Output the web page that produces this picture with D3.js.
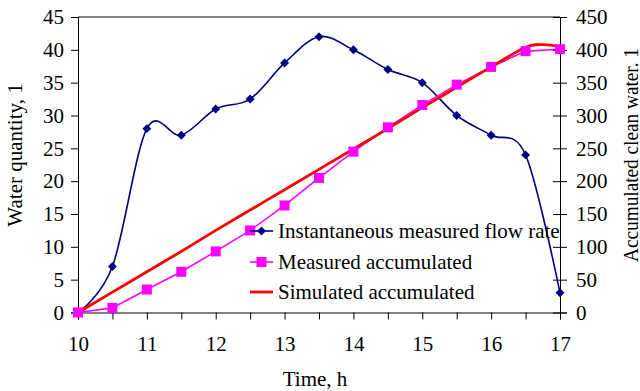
<!DOCTYPE html>
<html>
<head>
<meta charset="utf-8">
<script src="https://cdn.jsdelivr.net/npm/d3@7"></script>
<style>
  html, body { margin: 0; padding: 0; background: #fff; }
  svg { display: block; font-family: "Liberation Serif", "Times New Roman", serif; }
  text { font-family: "Liberation Serif", "Times New Roman", serif; fill: #000; }
</style>
</head>
<body>
<svg id="chart" width="640" height="391" font-family="Liberation Serif, serif"></svg>
<script>
// ---- data ----
const times = [10, 10.5, 11, 11.5, 12, 12.5, 13, 13.5, 14, 14.5, 15, 15.5, 16, 16.5, 17];
const flowRate = [0, 7, 28, 27, 31, 32.5, 38, 42, 40, 37, 35, 30, 27, 24, 3];
const measuredAccum = [0, 7, 35, 62, 93, 125, 163, 205, 245, 282, 316, 347, 374, 398, 401];
const simTimes = [10, 10.5, 11, 11.5, 12, 12.5, 13, 13.5, 14, 14.5, 15, 15.5, 16, 16.5, 16.75, 17];
const simAccum = [0, 31, 62, 93, 125, 156, 187, 218, 249, 280, 312, 343, 374, 404, 408, 405];
const leftTicks = [0, 5, 10, 15, 20, 25, 30, 35, 40, 45];
const rightTicks = [0, 50, 100, 150, 200, 250, 300, 350, 400, 450];
const xTicks = [10, 10.5, 11, 11.5, 12, 12.5, 13, 13.5, 14, 14.5, 15, 15.5, 16, 16.5, 17];
const seriesNames = ["Instantaneous measured flow rate", "Measured accumulated", "Simulated accumulated"];
const labels = { x: "Time, h", yLeft: "Water quantity, 1", yRight: "Accumulated clean water. 1" };

// ---- layout ----
const FS = 21;
const FONT = '"Liberation Serif", "Times New Roman", serif';
const L = 78, R = 560, T = 17, B = 312.5;
const svg = d3.select("#chart");
const x = d3.scaleLinear().domain([10, 17]).range([L, R]);
const yL = d3.scaleLinear().domain([0, 45]).range([B, T]);
const yR = d3.scaleLinear().domain([0, 450]).range([B, T]);

// frame top line
svg.append("line").attr("x1", L).attr("x2", R).attr("y1", T).attr("y2", T)
  .attr("stroke", "#000").attr("stroke-width", 1);

// left axis
const gL = svg.append("g").attr("transform", `translate(${L},0)`)
  .call(d3.axisLeft(yL).tickValues(leftTicks).tickSize(7).tickPadding(7).tickFormat(d3.format("d")));
// right axis
const gR = svg.append("g").attr("transform", `translate(${R},0)`)
  .call(d3.axisRight(yR).tickValues(rightTicks).tickSize(7).tickPadding(9).tickFormat(d3.format("d")));
gR.selectAll(".tick line").attr("x1", -7).attr("x2", 7);
// bottom axis
const gB = svg.append("g").attr("transform", `translate(0,${B})`)
  .call(d3.axisBottom(x).tickValues(xTicks).tickSize(7).tickPadding(17)
    .tickFormat(d => Number.isInteger(d) ? d3.format("d")(d) : ""));

[gL, gR, gB].forEach(g => {
  g.attr("font-family", null).attr("font-size", null);
  g.selectAll("text").style("font-family", FONT)
    .style("font-size", FS + "px").attr("fill", "#000");
  g.selectAll("path, line").attr("stroke", "#000").attr("stroke-width", 1);
});

// ---- series ----
const flowLine = d3.line().x((d, i) => x(times[i])).y(d => yL(d)).curve(d3.curveCatmullRom.alpha(0));
const measLine = d3.line().x((d, i) => x(times[i])).y(d => yR(d));
const simLine = d3.line().x((d, i) => x(simTimes[i])).y(d => yR(d)).curve(d3.curveCatmullRom.alpha(0));

svg.append("path").datum(flowRate).attr("d", flowLine)
  .attr("fill", "none").attr("stroke", "#000080").attr("stroke-width", 1.6);
svg.append("path").datum(measuredAccum).attr("d", measLine)
  .attr("fill", "none").attr("stroke", "#FF00FF").attr("stroke-width", 1.6);
svg.append("path").datum(simAccum).attr("d", simLine)
  .attr("fill", "none").attr("stroke", "#FF0000").attr("stroke-width", 2.8);

const diamond = d3.symbol().type(d3.symbolSquare).size(40);
function addDiamond(cx, cy) {
  svg.append("path").attr("d", diamond()).attr("fill", "#000080")
    .attr("transform", `translate(${cx},${cy}) rotate(45)`);
}
function addSquare(cx, cy) {
  svg.append("rect").attr("x", cx - 5).attr("y", cy - 5).attr("width", 10).attr("height", 10)
    .attr("fill", "#FF00FF");
}
flowRate.forEach((v, i) => addDiamond(x(times[i]), yL(v)));
measuredAccum.forEach((v, i) => addSquare(x(times[i]), yR(v)));

// ---- legend ----
const legY = [231, 262, 292];
const lx1 = 250, lx2 = 273, ltx = 278;
const legColors = ["#000080", "#FF00FF", "#FF0000"];
const legWidths = [1.6, 1.6, 2.8];
seriesNames.forEach((name, i) => {
  svg.append("line").attr("x1", lx1).attr("x2", lx2).attr("y1", legY[i]).attr("y2", legY[i])
    .attr("stroke", legColors[i]).attr("stroke-width", legWidths[i]);
  if (i === 0) addDiamond((lx1 + lx2) / 2, legY[i]);
  if (i === 1) addSquare((lx1 + lx2) / 2, legY[i]);
  svg.append("text").attr("x", ltx).attr("y", legY[i]).attr("dy", "0.35em")
    .style("font-family", FONT).style("font-size", FS + "px").text(name);
});

// ---- axis titles ----
svg.append("text").attr("transform", "translate(22,155) rotate(-90)")
  .attr("text-anchor", "middle").style("font-family", FONT).style("font-size", FS + "px").text(labels.yLeft);
svg.append("text").attr("transform", "translate(638,262) rotate(-90)")
  .attr("text-anchor", "start").style("font-family", FONT).style("font-size", "21px")
  .attr("textLength", 214).attr("lengthAdjust", "spacingAndGlyphs").text(labels.yRight);
svg.append("text").attr("x", 315).attr("y", 386)
  .attr("text-anchor", "middle").style("font-family", FONT).style("font-size", FS + "px").text(labels.x);
</script>
</body>
</html>
